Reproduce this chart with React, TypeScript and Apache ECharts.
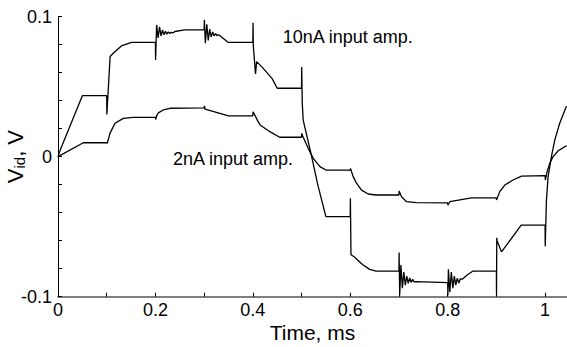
import React, { useEffect, useRef } from "react";
import * as echarts from "echarts";

const FONT = "'Liberation Sans', Arial, Helvetica, sans-serif";

// Time (ms) / V_id (V) pairs
const amp10nA: [number, number][] = [
  [0, 0], [0.005, 0.005], [0.05, 0.0435], [0.1, 0.0435],
  [0.1003, 0.03], [0.107, 0.0715], [0.1135, 0.0738], [0.13, 0.079], [0.151, 0.0816], [0.2, 0.0816],
  [0.2003, 0.069], [0.2025, 0.094], [0.2055, 0.0847], [0.2085, 0.0926], [0.2115, 0.0861], [0.2145, 0.0904],
  [0.2175, 0.0869], [0.2205, 0.0895], [0.2235, 0.0874], [0.2265, 0.089], [0.2295, 0.0878], [0.2325, 0.0888],
  [0.2355, 0.0882], [0.24, 0.0893], [0.26, 0.0905], [0.3, 0.0905],
  [0.3005, 0.0976], [0.3025, 0.081], [0.3055, 0.0945], [0.3085, 0.083], [0.3115, 0.091], [0.3145, 0.0855],
  [0.3175, 0.089], [0.3205, 0.0862], [0.3235, 0.0878], [0.3265, 0.0864], [0.33, 0.087], [0.349, 0.0816], [0.4, 0.0816],
  [0.4005, 0.0956], [0.401, 0.079], [0.4055, 0.059], [0.4078, 0.0678], [0.42, 0.0635], [0.44, 0.0555], [0.45, 0.0488], [0.5, 0.0488],
  [0.5003, 0.064], [0.5015, 0.038], [0.5034, 0.0261], [0.5185, 0.0035], [0.5335, -0.0203], [0.55, -0.0429], [0.6, -0.0429],
  [0.6003, -0.0298], [0.6015, -0.07], [0.608, -0.0715], [0.625, -0.077], [0.64, -0.0805], [0.653, -0.0817], [0.7, -0.0817],
  [0.7003, -0.0685], [0.7015, -0.0989], [0.704, -0.0774], [0.707, -0.0939], [0.71, -0.0824], [0.713, -0.0917],
  [0.716, -0.0853], [0.719, -0.0905], [0.722, -0.0866], [0.725, -0.0898], [0.728, -0.0876], [0.731, -0.0894],
  [0.735, -0.0893], [0.8, -0.09],
  [0.8005, -0.099], [0.8015, -0.0805], [0.8044, -0.0967], [0.8075, -0.0824], [0.8106, -0.0939], [0.8137, -0.0853],
  [0.8167, -0.0917], [0.8198, -0.0868], [0.823, -0.0902], [0.826, -0.0872], [0.83, -0.0875], [0.84, -0.0845],
  [0.852, -0.0817], [0.9, -0.0817],
  [0.9003, -0.099], [0.9008, -0.058], [0.9015, -0.06], [0.9105, -0.068], [0.951, -0.0489], [1.0, -0.0489],
  [1.0003, -0.064], [1.0028, -0.031], [1.0062, -0.0143], [1.013, 0], [1.02, 0.0119], [1.03, 0.0238], [1.044, 0.0361],
];

const amp2nA: [number, number][] = [
  [0, 0], [0.052, 0.0099], [0.1, 0.0099],
  [0.1012, 0.0095], [0.1067, 0.0166], [0.117, 0.0238], [0.134, 0.0273], [0.1546, 0.028], [0.2, 0.028],
  [0.2005, 0.0265], [0.203, 0.0295], [0.206, 0.0312], [0.216, 0.0333], [0.23, 0.0345], [0.3, 0.0348],
  [0.3005, 0.0362], [0.302, 0.0338], [0.35, 0.029], [0.4, 0.029],
  [0.4005, 0.032], [0.404, 0.0297], [0.41, 0.0255], [0.415, 0.0226], [0.435, 0.0178], [0.455, 0.0138], [0.5, 0.0138],
  [0.5005, 0.0166], [0.5013, 0.0154], [0.5137, 0.0059], [0.524, -0.0012], [0.5377, -0.0072], [0.55, -0.0096], [0.6, -0.0096],
  [0.6005, -0.0085], [0.606, -0.0143], [0.6128, -0.019], [0.6232, -0.0239], [0.6368, -0.0267], [0.6526, -0.0274], [0.7, -0.0274],
  [0.7004, -0.0246], [0.7053, -0.0286], [0.7156, -0.0322], [0.736, -0.0329], [0.8, -0.0331],
  [0.8003, -0.0346], [0.8044, -0.0322], [0.849, -0.0294], [0.9, -0.0294],
  [0.9003, -0.031], [0.907, -0.025], [0.9173, -0.0203], [0.9343, -0.0167], [0.9516, -0.0139], [1.0, -0.0136],
  [1.0005, -0.0167], [1.004, -0.011], [1.0096, -0.0048], [1.0164, 0], [1.027, 0.0042], [1.044, 0.0078],
];

const xLabelValues = [0, 0.2, 0.4, 0.6, 0.8, 1];
const yLabelValues = [-0.1, 0, 0.1];
const label10nA = "10nA input amp.";
const label2nA = "2nA input amp.";

const near = (list: number[], v: number) => list.some((t) => Math.abs(t - v) < 1e-9);

export default function App() {
  const ref = useRef<HTMLDivElement>(null);
  useEffect(() => {
    if (!ref.current) return;
    const chart = echarts.init(ref.current, null, { renderer: "svg" });
    chart.setOption({
      animation: false,
      backgroundColor: "#fff",
      grid: { left: 58, right: 0, top: 16.5, bottom: 50.3, containLabel: false, outerBoundsMode: "none" },
      xAxis: {
        type: "value",
        min: 0,
        max: 1.045,
        interval: 0.1,
        name: "Time, ms",
        nameLocation: "middle",
        nameGap: 25,
        nameMoveOverlap: false,
        nameTextStyle: { fontSize: 21, color: "#000", fontFamily: FONT },
        axisLine: { show: true, onZero: false, lineStyle: { color: "#808080", width: 2 } },
        axisTick: { show: true, inside: true, length: 4, lineStyle: { color: "#000", width: 1 } },
        axisLabel: {
          fontSize: 18,
          color: "#000",
          fontFamily: FONT,
          margin: 4,
          formatter: (v: number) => (near(xLabelValues, v) ? String(Number(v.toFixed(1))) : ""),
        },
        splitLine: { show: false },
      },
      yAxis: {
        type: "value",
        min: -0.1,
        max: 0.1,
        interval: 0.02,
        name: "{a|V}{b|id}{a|, V}",
        nameLocation: "middle",
        nameRotate: 90,
        nameGap: 31,
        nameMoveOverlap: false,
        nameTextStyle: {
          color: "#000",
          fontFamily: FONT,
          rich: {
            a: { fontSize: 22, lineHeight: 24, color: "#000", fontFamily: FONT },
            b: { fontSize: 15, lineHeight: 10, verticalAlign: "bottom", color: "#000", fontFamily: FONT },
          },
        },
        axisLine: { show: true, onZero: false, lineStyle: { color: "#000", width: 1 } },
        axisTick: { show: true, inside: true, length: 4, lineStyle: { color: "#000", width: 1 } },
        axisLabel: {
          fontSize: 18,
          color: "#000",
          fontFamily: FONT,
          margin: 6,
          formatter: (v: number) => (near(yLabelValues, v) ? (Math.abs(v) < 1e-9 ? "0" : String(Number(v.toFixed(2)))) : ""),
        },
        splitLine: { show: false },
      },
      graphic: [
        {
          type: "text",
          left: 282.7,
          top: 28,
          style: { text: label10nA, fontSize: 18, fill: "#000", fontFamily: FONT },
        },
        {
          type: "text",
          left: 173,
          top: 149.5,
          style: { text: label2nA, fontSize: 18, fill: "#000", fontFamily: FONT },
        },
      ],
      series: [
        {
          name: label10nA,
          type: "line",
          data: amp10nA,
          showSymbol: false,
          symbol: "none",
          lineStyle: { color: "#000", width: 1.3 },
        },
        {
          name: label2nA,
          type: "line",
          data: amp2nA,
          showSymbol: false,
          symbol: "none",
          lineStyle: { color: "#000", width: 1.3 },
        },
      ],
    });
    return () => chart.dispose();
  }, []);
  return (
    <div
      ref={ref}
      style={{ position: "fixed", left: 0, top: 0, width: 567, height: 347, background: "#fff" }}
    />
  );
}
